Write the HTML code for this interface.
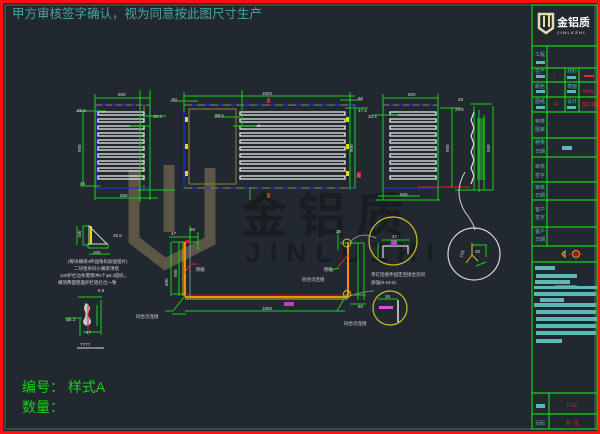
<!DOCTYPE html>
<html><head><meta charset="utf-8"><style>
html,body{margin:0;padding:0;background:#212830;}
svg{display:block;}
text{font-family:"Liberation Sans","Noto Sans CJK SC",sans-serif;}
</style></head><body>
<svg width="600" height="434" viewBox="0 0 600 434" xmlns="http://www.w3.org/2000/svg">
<rect width="600" height="434" fill="#212830"/>
<!-- watermark -->
<g fill="none" stroke="#5c5646" stroke-width="11" stroke-linejoin="miter">
<polyline points="134,170 134,240 165,264 212,240"/>
<polyline points="169,165 169,232"/>
<polyline points="210,168 210,245"/>
</g>
<g fill="#181d22" font-weight="bold">
<text x="240" y="232" font-size="48" letter-spacing="10">金铝质</text>
<text x="245" y="262" font-size="28" letter-spacing="9">JINLUZHI</text>
</g>
<!-- border -->
<rect x="1.5" y="1.5" width="597" height="431" fill="none" stroke="#ff1010" stroke-width="3"/>
<rect x="5" y="5" width="590" height="424" fill="none" stroke="#5a5f66" stroke-width="1"/>
<text x="12" y="18" font-size="12.5" fill="#4aa3a6">甲方审核签字确认，视为同意按此图尺寸生产</text>

<!-- title block -->
<g stroke="#19d019" stroke-width="1.2" fill="none">
<rect x="532" y="5" width="65" height="424"/>
<line x1="532" y1="46" x2="597" y2="46"/>
<line x1="532" y1="68" x2="597" y2="68"/>
<line x1="532" y1="82" x2="597" y2="82"/>
<line x1="532" y1="97" x2="597" y2="97"/>
<line x1="532" y1="112" x2="597" y2="112"/>
<line x1="532" y1="138" x2="597" y2="138"/>
<line x1="532" y1="157" x2="597" y2="157"/>
<line x1="532" y1="182" x2="597" y2="182"/>
<line x1="532" y1="200" x2="597" y2="200"/>
<line x1="532" y1="227" x2="597" y2="227"/>
<line x1="532" y1="246" x2="597" y2="246"/>
<line x1="532" y1="262" x2="597" y2="262"/>
<line x1="532" y1="393" x2="597" y2="393"/>
<line x1="532" y1="414" x2="597" y2="414"/>
<line x1="547" y1="46" x2="547" y2="246"/>
<line x1="565" y1="68" x2="565" y2="112"/>
<line x1="579" y1="68" x2="579" y2="112"/>
<line x1="549" y1="393" x2="549" y2="429"/>
</g>
<g fill="#5fb8b8">
<rect x="536" y="61" width="9" height="3"/><rect x="536" y="75" width="9" height="3"/><rect x="536" y="90" width="9" height="3"/><rect x="536" y="106" width="9" height="3"/>
<rect x="567" y="76" width="9" height="3"/><rect x="567" y="90" width="9" height="3"/><rect x="567" y="106" width="9" height="3"/>
<rect x="562" y="146" width="10" height="4"/>
<rect x="535" y="266" width="20" height="4"/><rect x="536" y="274" width="41" height="4"/><rect x="535" y="280" width="35" height="4"/>
<rect x="534" y="286" width="63" height="3"/><rect x="534" y="292" width="62" height="4"/><rect x="540" y="298" width="24" height="4"/>
<rect x="534" y="303" width="62" height="4"/><rect x="536" y="310" width="60" height="4"/><rect x="536" y="317" width="61" height="4"/>
<rect x="536" y="324" width="60" height="4"/><rect x="536" y="331" width="60" height="4"/><rect x="536" y="339" width="26" height="4"/>
<rect x="536" y="404" width="9" height="4"/>
</g>
<rect x="555" y="285" width="22" height="1" fill="#c040c0"/>
<g fill="#5fb8b8" font-size="5">
<text x="535" y="56">工程</text><text x="535" y="73">生产</text><text x="535" y="88">颜色</text><text x="535" y="103">图纸</text>
<text x="535" y="123">种类</text><text x="535" y="131">图审</text><text x="535" y="144">种类</text><text x="535" y="153">日期</text>
<text x="535" y="168">审核</text><text x="535" y="177">签字</text><text x="535" y="189">审核</text><text x="535" y="197">日期</text>
<text x="535" y="211">客户</text><text x="535" y="219">签字</text><text x="535" y="233">客户</text><text x="535" y="241">日期</text>
<text x="567" y="73">材料</text><text x="567" y="88">表面</text><text x="567" y="103">设计</text><text x="535" y="425">页码</text>
</g>
<g fill="#ff2020" font-size="5">
<text x="553" y="78">*</text><rect x="584" y="75" width="10" height="2"/><text x="583" y="93">0mm</text><text x="554" y="106">4</text><text x="582" y="106">加工图</text>
<text x="567" y="407">F-01</text><text x="566" y="425">共 &#160;页</text>
</g>
<!-- logo -->
<g>
<path d="M539,14 h14 v14 l-7,5 l-7,-5 z" fill="none" stroke="#e6dcb0" stroke-width="2.5"/>
<rect x="543" y="16" width="2" height="11" fill="#e6dcb0"/><rect x="548" y="13" width="2" height="14" fill="#e6dcb0"/>
<text x="557" y="26" font-size="11" fill="#ffffff" font-weight="bold">金铝质</text>
<text x="557" y="34" font-size="4" fill="#ffffff" letter-spacing="1.5">JINLVZHI</text>
</g>
<!-- symbol -->
<circle cx="576" cy="254" r="3.5" fill="none" stroke="#e0c020"/><line x1="569" y1="254" x2="582" y2="254" stroke="#e02020"/><line x1="576" y1="249" x2="576" y2="259" stroke="#e02020"/>
<path d="M565,251 v6 l-3,-3 z" fill="none" stroke="#e0c020"/>

<!-- panels -->
<g fill="none">
<rect x="96" y="105" width="54" height="83" stroke="#2030e0" stroke-width="1.2"/>
<rect x="184" y="105" width="171" height="83" stroke="#2030e0" stroke-width="1.2"/>
<rect x="189" y="109" width="47" height="75" stroke="#8a8a30" stroke-width="1"/>
<rect x="383" y="105" width="55" height="83" stroke="#2030e0" stroke-width="1.2"/>
<line x1="96" y1="105" x2="150" y2="105" stroke="#8a8a30" stroke-dasharray="6,4"/>
<line x1="184" y1="105" x2="355" y2="105" stroke="#8a8a30" stroke-dasharray="8,5"/>
<line x1="184" y1="188" x2="355" y2="188" stroke="#8a8a30" stroke-dasharray="8,5"/>
<line x1="383" y1="105" x2="438" y2="105" stroke="#8a8a30" stroke-dasharray="6,4"/>
<line x1="144" y1="105" x2="144" y2="188" stroke="#8a8a30" stroke-dasharray="6,4"/>
</g>
<g fill="none" stroke="#e8e8e8" stroke-width="1.3">
<g id="s1">
<rect x="98" y="112" width="46" height="3"/><rect x="98" y="119" width="46" height="3"/><rect x="98" y="126" width="46" height="3"/><rect x="98" y="133" width="46" height="3"/><rect x="98" y="140" width="46" height="3"/><rect x="98" y="147" width="46" height="3"/><rect x="98" y="154" width="46" height="3"/><rect x="98" y="161" width="46" height="3"/><rect x="98" y="168" width="46" height="3"/><rect x="98" y="176" width="46" height="3"/>
</g>
<g id="s2">
<rect x="240" y="112" width="105" height="3"/><rect x="240" y="119" width="105" height="3"/><rect x="240" y="126" width="105" height="3"/><rect x="240" y="133" width="105" height="3"/><rect x="240" y="140" width="105" height="3"/><rect x="240" y="147" width="105" height="3"/><rect x="240" y="154" width="105" height="3"/><rect x="240" y="161" width="105" height="3"/><rect x="240" y="168" width="105" height="3"/><rect x="240" y="176" width="105" height="3"/>
</g>
<use href="#s1" transform="translate(292,0)"/>
</g>
<!-- green dims -->
<g stroke="#19d019" stroke-width="1" fill="none">
<line x1="95" y1="98" x2="150" y2="98"/><line x1="95" y1="94" x2="95" y2="200"/><line x1="150" y1="90" x2="150" y2="200"/>
<line x1="83" y1="111" x2="83" y2="186"/><line x1="76" y1="111" x2="106" y2="111"/><line x1="80" y1="186" x2="100" y2="186"/>
<line x1="95" y1="198" x2="158" y2="198"/><line x1="140" y1="90" x2="140" y2="202"/><line x1="143" y1="116" x2="166" y2="116"/><line x1="130" y1="126" x2="150" y2="126"/>
<line x1="184" y1="96" x2="355" y2="96"/><line x1="184" y1="92" x2="184" y2="112"/><line x1="170" y1="101" x2="198" y2="101"/>
<line x1="242" y1="90" x2="242" y2="125"/><line x1="214" y1="117" x2="240" y2="117"/><line x1="233" y1="126" x2="256" y2="126"/>
<line x1="250" y1="188" x2="250" y2="200"/>
<line x1="350" y1="92" x2="350" y2="190"/><line x1="340" y1="100" x2="362" y2="100"/><line x1="345" y1="108" x2="368" y2="108"/><line x1="355" y1="108" x2="355" y2="188"/>
<line x1="383" y1="98" x2="438" y2="98"/><line x1="383" y1="94" x2="383" y2="200"/><line x1="438" y1="94" x2="438" y2="200"/><line x1="372" y1="115" x2="398" y2="115"/>
<line x1="452" y1="108" x2="452" y2="188"/><line x1="440" y1="108" x2="462" y2="108"/>
<line x1="376" y1="200" x2="440" y2="200"/><line x1="378" y1="196" x2="420" y2="196"/>
<line x1="470" y1="104" x2="492" y2="104"/><line x1="493" y1="106" x2="493" y2="190"/><line x1="474" y1="106" x2="474" y2="190"/>
<line x1="479" y1="110" x2="479" y2="192"/><line x1="484" y1="115" x2="484" y2="190"/><line x1="455" y1="190" x2="493" y2="190"/>
</g>
<g stroke="#e0e0e0" stroke-width="1.2">
<path d="M474,112 l-3,8 l3,8 l-3,8 l3,8 l-3,8 l3,8 l-3,8 l3,8 l-3,8" fill="none"/>
</g>
<g fill="#19d019"><rect x="477" y="118" width="8" height="62" opacity="0.5"/></g>
<line x1="138" y1="190" x2="175" y2="190" stroke="#19d019"/>
<line x1="418" y1="187" x2="470" y2="187" stroke="#e02020"/>
<g fill="#e0e000"><rect x="185" y="117" width="3" height="5"/><rect x="185" y="144" width="3" height="5"/><rect x="185" y="171" width="3" height="5"/><rect x="346" y="117" width="3" height="5"/><rect x="346" y="144" width="3" height="5"/><rect x="346" y="171" width="3" height="5"/></g>
<g fill="#e02020"><rect x="267" y="98" width="3" height="5"/><rect x="267" y="193" width="3" height="5"/><rect x="357" y="172" width="4" height="6"/></g>
<rect x="357" y="174" width="3" height="3" fill="#c040c0"/>
<g fill="#d8d8d8" font-size="4.5">
<text x="118" y="96">600</text><text x="120" y="197">550</text><text x="77" y="112">29.6</text><text x="153" y="118">30.4</text><text x="80" y="185">45</text>
<text x="262" y="95">1800</text><text x="172" y="101">60</text><text x="215" y="117">98.5</text><text x="258" y="127">8</text>
<text x="358" y="100">60</text><text x="358" y="112">47.5</text><text x="368" y="118">30.4</text>
<text x="408" y="96">600</text><text x="455" y="111">29.6</text><text x="400" y="196">550</text><text x="458" y="101">29</text>
</g>
<g fill="#d8d8d8" font-size="4.5"><text transform="translate(81,152) rotate(-90)">900</text><text transform="translate(353,152) rotate(-90)">900</text><text transform="translate(449,152) rotate(-90)">900</text><text transform="translate(490,152) rotate(-90)">900</text></g>

<!-- curved leader to white circle -->
<path d="M465,172 q-12,20 0,40 q8,10 10,18" fill="none" stroke="#d0d0d0"/>
<circle cx="474" cy="254" r="26" fill="none" stroke="#d8d8d8" stroke-width="1.2"/>
<g stroke="#19d019" fill="none"><line x1="472" y1="245" x2="487" y2="245"/><line x1="486" y1="245" x2="486" y2="257"/><line x1="476" y1="266" x2="486" y2="262"/></g>
<path d="M472,243 l0,12 l-6,8 M472,255 l6,6" fill="none" stroke="#e0c020"/>
<g fill="#d8d8d8" font-size="4.5"><text x="475" y="253">30</text><text transform="translate(462,258) rotate(-70)">105</text></g>

<!-- lower left details -->
<g stroke="#19d019" fill="none">
<rect x="83" y="226" width="6" height="19"/><rect x="88" y="244" width="20" height="4"/><line x1="89" y1="254" x2="110" y2="254"/>
<line x1="77" y1="226" x2="77" y2="245"/>
<line x1="80" y1="318" x2="80" y2="336"/><line x1="101" y1="300" x2="101" y2="335"/><line x1="78" y1="297" x2="102" y2="297"/><line x1="83" y1="332" x2="100" y2="332"/><line x1="65" y1="318" x2="82" y2="318"/><line x1="97" y1="305" x2="97" y2="326"/>
</g>
<path d="M89,226 l0,18 l18,0 z" fill="none" stroke="#d8d8d8"/>
<rect x="90" y="226" width="2" height="18" fill="#e0e000"/>
<path d="M86,303 q4,2 4,6 q-3,6 0,10 a4,4 0 1 1 -6,0 q3,-4 0,-10 q0,-4 2,-6z" fill="#d8d8d8" opacity="0.9"/>
<line x1="88" y1="305" x2="88" y2="330" stroke="#e02020"/>
<line x1="77" y1="348" x2="104" y2="348" stroke="#d8d8d8"/>
<g fill="#d8d8d8" font-size="4.5">
<text x="93" y="254">200</text><text x="113" y="237">45.5</text><text transform="translate(81,238) rotate(-90)">100</text>
<text x="68" y="263">(每块横梁4件固角码加强铝片)</text><text x="74" y="270">二块铝条码小横梁须搭</text><text x="60" y="277">100护栏边条需预冲2个φ5.2圆孔，</text><text x="58" y="284">横须两面铝面护栏铝孔位一致</text>
<text x="98" y="292">8.5</text><text x="66" y="321">φ5.3</text><text x="86" y="334">47</text><text x="80" y="346">????</text>
</g>
<!-- orange L profile -->
<g stroke="#19d019" fill="none">
<line x1="169" y1="237" x2="198" y2="237"/><line x1="172" y1="242" x2="198" y2="242"/><line x1="171" y1="242" x2="171" y2="296"/><line x1="179" y1="242" x2="179" y2="296"/>
<line x1="172" y1="294" x2="185" y2="294"/><line x1="185" y1="311" x2="345" y2="311"/><line x1="198" y1="232" x2="198" y2="250"/>
<line x1="190" y1="226" x2="190" y2="245"/><line x1="172" y1="314" x2="186" y2="314"/>
<path d="M185,296 l-12,15 h-8"/>
</g>
<line x1="185" y1="242" x2="185" y2="296" stroke="#ff8c00" stroke-width="2"/>
<line x1="183" y1="242" x2="183" y2="296" stroke="#d0c020" stroke-width="1"/>
<line x1="185" y1="297" x2="348" y2="297" stroke="#ff8c00" stroke-width="2"/>
<line x1="185" y1="299" x2="348" y2="299" stroke="#a0a020" stroke-width="1.2"/>
<line x1="185" y1="295" x2="348" y2="295" stroke="#e02020" stroke-width="0.8"/>
<line x1="348" y1="242" x2="348" y2="297" stroke="#ff8c00" stroke-width="2"/>
<line x1="190" y1="242" x2="190" y2="296" stroke="#888"/>
<path d="M185,273 l5,-9 h8" fill="none" stroke="#e02020"/>
<rect x="186" y="240" width="4" height="3" fill="#e02020"/>
<rect x="284" y="302" width="10" height="4" fill="#c040c0"/>
<g fill="#d8d8d8" font-size="4.5">
<text x="171" y="235">47</text><text x="190" y="231">58</text><text x="196" y="271">侧板</text><text x="136" y="318">同合页连接</text><text x="262" y="310">1800</text>
<text transform="translate(168,286) rotate(-90)">600</text><text transform="translate(177,277) rotate(-90)">500</text>
</g>
<!-- right L detail -->
<g stroke="#19d019" fill="none">
<line x1="340" y1="243" x2="364" y2="243"/><line x1="358" y1="243" x2="358" y2="300"/><line x1="364" y1="243" x2="364" y2="300"/>
<line x1="338" y1="230" x2="338" y2="250"/><line x1="350" y1="295" x2="366" y2="295"/><line x1="350" y1="304" x2="366" y2="304"/>
<path d="M347,294 l-10,17 h-12"/><path d="M339,268 l-8,2"/>
</g>
<path d="M338,267 l10,-12" stroke="#e02020" fill="none"/>
<circle cx="347" cy="243" r="4" fill="none" stroke="#e0c020"/><circle cx="347" cy="294" r="3.5" fill="none" stroke="#e0c020"/>
<path d="M351,241 q10,-10 25,-3" fill="none" stroke="#888"/><path d="M350,296 q15,-5 24,-5" fill="none" stroke="#888"/>
<circle cx="393" cy="241" r="24" fill="none" stroke="#d0c020" stroke-width="1.2"/>
<circle cx="390" cy="308" r="17" fill="none" stroke="#d0c020" stroke-width="1.2"/>
<path d="M383,258 v-12 h25 v8" fill="none" stroke="#d8d8d8" stroke-width="1.2"/>
<rect x="391" y="240" width="6" height="6" fill="#c040c0"/>
<g stroke="#19d019" fill="none"><line x1="382" y1="240" x2="410" y2="240"/><line x1="378" y1="243" x2="378" y2="258"/><line x1="378" y1="299" x2="398" y2="299"/></g>
<rect x="379" y="306" width="14" height="3" fill="#e050e0"/><line x1="398" y1="300" x2="398" y2="322" stroke="#e0e0e0" stroke-width="1.5"/>
<g fill="#d8d8d8" font-size="4.5">
<text x="392" y="238">47</text><text x="336" y="233">28</text><text x="324" y="271">侧板</text><text x="302" y="281">同合页连接</text><text x="344" y="325">同合页连接</text>
<text x="371" y="276">单灯连接件固定连接合页同</text><text x="371" y="284">加强(9-19-5)</text><text x="385" y="298">28</text><text x="358" y="308">60</text>
</g>
<!-- bottom green labels -->
<g fill="#19d019" font-size="14"><text x="22" y="392">编号： 样式A</text><text x="22" y="412">数量：</text></g>
</svg>
</body></html>
